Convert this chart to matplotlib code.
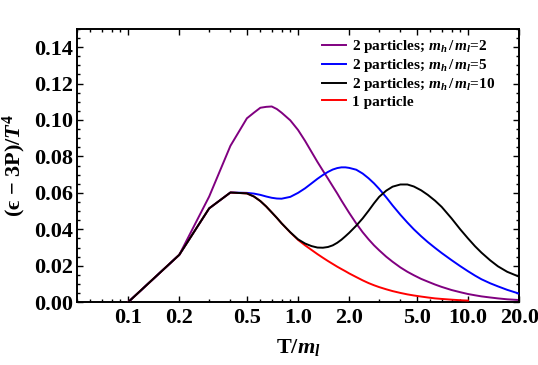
import matplotlib
matplotlib.use("Agg")
import matplotlib.pyplot as plt
from matplotlib.ticker import FixedLocator, LogLocator, MultipleLocator, FormatStrFormatter, NullFormatter

plt.rcParams['font.family'] = ['Liberation Serif', 'DejaVu Serif']
plt.rcParams['font.weight'] = 'bold'
plt.rcParams['axes.labelweight'] = 'bold'
plt.rcParams['mathtext.fontset'] = 'custom'
plt.rcParams['mathtext.rm'] = 'Liberation Serif:bold'
plt.rcParams['mathtext.bf'] = 'Liberation Serif:bold'
plt.rcParams['mathtext.it'] = 'Liberation Serif:italic:bold'

# temperature grid T/m_l
T_all = [0.1, 0.2, 0.3, 0.4,
         0.5, 0.55, 0.6, 0.65, 0.7, 0.75, 0.8, 0.9, 1.0, 1.1, 1.2, 1.3, 1.4, 1.5,
         1.6, 1.7, 1.8, 1.9, 2.0, 2.2, 2.4, 2.6, 2.8, 3.0, 3.3, 3.6, 4.0, 4.4, 4.8,
         5.3, 5.8, 6.4, 7.0, 8.0, 9.0, 10.0, 11.0, 12.0, 13.5, 15.0, 17.0, 20.0]

mass2 = [0.0, 0.026, 0.058, 0.0858,
         0.1009, 0.1040, 0.1067, 0.1072, 0.1074, 0.1060, 0.1040, 0.0998, 0.0945,
         0.0885, 0.0825, 0.0770, 0.0722, 0.0678, 0.0636, 0.0597, 0.0558, 0.0523,
         0.0490, 0.0432, 0.0384, 0.0345, 0.0312, 0.0285, 0.0250, 0.0222, 0.0191,
         0.0167, 0.0148, 0.0128, 0.0113, 0.0097, 0.0084, 0.0067, 0.0055, 0.0045,
         0.0038, 0.0032, 0.0026, 0.0021, 0.0016, 0.0012]
mass5 = [0.0, 0.026, 0.0515, 0.0602,
         0.0600, 0.0596, 0.0589, 0.0580, 0.0573, 0.0569, 0.0568, 0.0578, 0.0600,
         0.0625, 0.0652, 0.0677, 0.0698, 0.0715, 0.0728, 0.0736, 0.0740, 0.0740,
         0.0737, 0.0727, 0.0706, 0.0680, 0.0652, 0.0622, 0.0576, 0.0531, 0.0480,
         0.0437, 0.0400, 0.0362, 0.0330, 0.0298, 0.0270, 0.0231, 0.0198, 0.0170,
         0.0146, 0.0126, 0.0104, 0.0087, 0.0068, 0.0047]
mass10 = [0.0, 0.026, 0.0515, 0.0602,
          0.0597, 0.0580, 0.0555, 0.0525, 0.0493, 0.0463, 0.0433, 0.0384, 0.0345,
          0.0322, 0.0308, 0.0300, 0.0299, 0.0303, 0.0312, 0.0326, 0.0343, 0.0362,
          0.0381, 0.0420, 0.0460, 0.0502, 0.0543, 0.0578, 0.0612, 0.0634, 0.0646,
          0.0646, 0.0635, 0.0614, 0.0589, 0.0557, 0.0523, 0.0460, 0.0400, 0.0350,
          0.0307, 0.0272, 0.0230, 0.0197, 0.0167, 0.0140]

T_one = [0.1, 0.2, 0.3, 0.4,
         0.5, 0.55, 0.6, 0.65, 0.7, 0.75, 0.8, 0.9, 1.0, 1.1, 1.2, 1.3, 1.4, 1.5,
         1.6, 1.7, 1.8, 1.9, 2.0, 2.2, 2.4, 2.6, 2.8, 3.0, 3.3, 3.6, 4.0, 4.4, 4.8,
         5.3, 5.8, 6.4, 7.0, 8.0, 9.0, 10.0]
one_particle = [0.0, 0.026, 0.0515, 0.0602,
                0.0597, 0.0580, 0.0555, 0.0525, 0.0493, 0.0463, 0.0433, 0.0383, 0.0342,
                0.0312, 0.0287, 0.0264, 0.0244, 0.0226, 0.0210, 0.0195, 0.0182, 0.0170,
                0.0158, 0.0138, 0.0120, 0.0105, 0.0093, 0.0083, 0.0071, 0.0061, 0.0051,
                0.0043, 0.0037, 0.0031, 0.0026, 0.0021, 0.0018, 0.0014, 0.0011, 0.0009]

labels = [r'2 particles; $m_h\,/\,m_l$=2', r'2 particles; $m_h\,/\,m_l$=5',
          r'2 particles; $m_h\,/\,m_l$=10', '1 particle']

fig = plt.figure(figsize=(5.38, 3.65), dpi=100)
ax = fig.add_axes([0.143, 0.172, 0.822, 0.749])

lw = 1.4
l2, = ax.plot(T_all, mass2, color='purple', lw=lw, zorder=2)
l5, = ax.plot(T_all, mass5, color='blue', lw=lw, zorder=3)
l1, = ax.plot(T_one, one_particle, color='red', lw=lw, zorder=4)
l10, = ax.plot(T_all, mass10, color='black', lw=lw, zorder=5)

ax.set_xscale('log')
ax.set_xlim(0.05, 20)
ax.set_ylim(0, 0.15)

ax.xaxis.set_major_locator(FixedLocator([0.1, 0.2, 0.5, 1, 2, 5, 10, 20]))
ax.xaxis.set_major_formatter(FormatStrFormatter('%.1f'))
ax.xaxis.set_minor_locator(LogLocator(base=10, subs=range(1, 10)))
ax.xaxis.set_minor_formatter(NullFormatter())
ax.yaxis.set_major_locator(MultipleLocator(0.02))
ax.yaxis.set_minor_locator(MultipleLocator(0.005))
ax.yaxis.set_major_formatter(FormatStrFormatter('%.2f'))

ax.tick_params(which='both', direction='in', top=True, right=True, width=1)
ax.tick_params(which='major', length=4, labelsize=16)
ax.tick_params(which='minor', length=2)
ax.tick_params(axis='x', which='major', pad=4)
ax.tick_params(axis='y', which='major', pad=3)
for s in ax.spines.values():
    s.set_linewidth(1.4)

ax.set_xlabel(r'T/$m_l$', fontsize=16, fontweight='bold', labelpad=7)
ax.set_ylabel(r'(ϵ − 3P)/$T^4$', fontsize=16, fontweight='bold', labelpad=4)

ax.legend([l2, l5, l10, l1], labels, loc='upper left', bbox_to_anchor=(0.554, 0.965),
          frameon=False, prop={'size': 11, 'weight': 'bold'}, handlelength=1.6,
          handletextpad=0.35, labelspacing=0.12, borderpad=0, borderaxespad=0)

fig.savefig('out.png', dpi=100)
